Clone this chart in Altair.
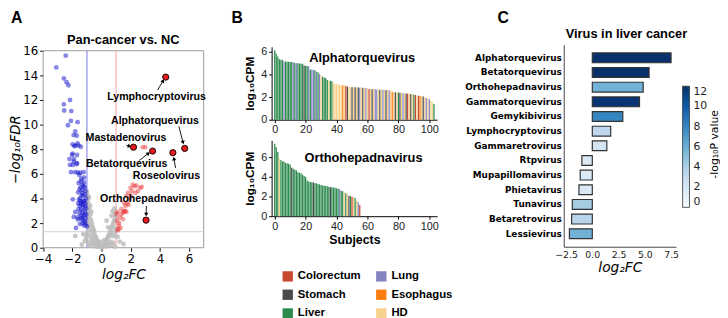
import math
import altair as alt
import pandas as pd

SANS = "Liberation Sans"
DEJA = "DejaVu Sans"

# ---------------- Panel A: volcano plot ----------------
gray_pts = [
    (-1.80, 0.95), (-1.25, 1.10), (-1.15, 0.55), (-1.35, 0.25), (-1.05, 0.80),
    (-1.00, 4.55), (-0.95, 4.25), (-0.92, 3.95), (-0.98, 3.75), (-0.88, 3.55), (-0.94, 3.30),
    (-0.82, 3.10), (-0.90, 2.90), (-0.76, 2.70), (-0.96, 2.55), (-0.84, 2.40), (-0.72, 2.25),
    (-0.92, 2.10), (-0.66, 2.00), (-0.80, 1.88), (-0.62, 1.72), (-0.88, 1.60), (-0.56, 1.50),
    (-0.74, 1.40), (-0.50, 1.30), (-0.96, 1.20), (-0.62, 1.10), (-0.46, 1.00), (-0.82, 0.92),
    (-0.40, 0.85), (-0.56, 0.76), (-0.35, 0.70), (-0.70, 0.62), (-0.30, 0.55), (-0.48, 0.50),
    (-0.25, 0.42), (-0.60, 0.36), (-0.20, 0.32), (-0.38, 0.26), (-0.15, 0.20), (-0.88, 0.18),
    (-0.10, 0.12), (-0.30, 0.08), (-0.05, 0.05), (-0.52, 0.14), (-0.74, 0.30), (-0.98, 0.50),
    (-1.00, 1.00), (-0.98, 2.00), (-0.97, 3.05), (-0.86, 4.10), (-0.78, 3.40), (-0.70, 2.90),
    (0.02, 0.03), (0.08, 0.12), (0.14, 0.22), (0.20, 0.30), (0.26, 0.45), (0.30, 0.52),
    (0.36, 0.62), (0.40, 0.76), (0.45, 0.90), (0.50, 1.02), (0.55, 1.16), (0.60, 1.30),
    (0.64, 1.46), (0.70, 1.62), (0.74, 1.76), (0.80, 1.92), (0.84, 2.12), (0.90, 2.30),
    (0.94, 2.50), (0.68, 2.59), (0.76, 2.94), (0.88, 3.20), (0.97, 2.80), (0.60, 0.50),
    (0.80, 0.42), (0.50, 0.30), (0.95, 0.92), (0.72, 0.95), (0.86, 1.22), (0.40, 0.20),
    (0.98, 1.52), (0.30, 0.10), (0.66, 0.22), (0.46, 1.66), (0.35, 2.19), (0.92, 0.10),
    (1.10, 0.90), (1.25, 0.50), (1.50, 0.30), (0.18, 0.60), (-0.12, 0.50), (0.00, 0.25),
]
blue_pts = [
    (-2.45, 15.60), (-3.10, 14.65), (-2.58, 13.75), (-2.40, 13.45), (-2.27, 13.20), (-2.16, 12.00),
    (-2.58, 11.65), (-2.56, 11.15), (-2.07, 11.10), (-2.10, 10.30), (-1.64, 10.20), (-2.30, 9.95),
    (-1.80, 9.45), (-1.91, 9.15), (-1.70, 9.10), (-1.98, 8.40), (-1.80, 8.30), (-1.58, 8.30),
    (-1.42, 8.20), (-1.86, 8.25), (-1.64, 8.47), (-1.98, 7.65), (-2.02, 7.53), (-1.68, 7.53),
    (-2.20, 7.20), (-1.89, 7.20), (-1.91, 7.00), (-1.68, 6.86), (-2.16, 6.73), (-1.96, 6.73),
    (-1.70, 6.80), (-2.09, 6.14), (-1.80, 6.14), (-1.46, 6.10), (-1.23, 6.14), (-1.62, 6.10),
    (-1.57, 5.26), (-1.41, 5.40), (-1.23, 5.00), (-1.50, 4.73), (-1.34, 4.46), (-1.12, 4.33),
    (-1.46, 4.06), (-1.23, 3.79), (-1.41, 3.53), (-1.12, 3.39), (-1.57, 3.13), (-1.30, 2.91),
    (-1.05, 2.72), (-1.64, 2.46), (-1.37, 2.32), (-1.12, 2.11), (-1.48, 1.92), (-1.00, 1.74),
    (-1.30, 5.10), (-1.15, 4.90), (-1.45, 4.90), (-1.60, 4.50), (-1.25, 4.20), (-1.05, 4.00),
    (-1.55, 3.90), (-1.35, 3.70), (-1.10, 3.60), (-1.50, 3.40), (-1.25, 3.30), (-1.40, 3.10),
    (-1.15, 3.00), (-1.50, 2.80), (-1.25, 2.60), (-1.08, 2.40), (-1.40, 2.60), (-1.20, 2.20),
    (-1.30, 2.00), (-1.10, 1.90), (-1.20, 1.80), (-1.05, 3.20), (-1.10, 4.60), (-1.30, 4.70),
    (-1.20, 5.30), (-1.38, 5.60), (-1.52, 5.90), (-1.20, 5.70), (-1.97, 3.93), (-1.80, 2.90),
    (-1.90, 2.50), (-1.62, 2.30), (-1.75, 1.60), (-1.35, 4.30), (-1.45, 3.80), (-1.18, 3.80),
    (-1.28, 3.50), (-1.60, 3.60), (-1.35, 2.40), (-1.15, 2.70),
]
red_pts = [
    (1.09, 1.39), (1.18, 1.79), (1.07, 2.19), (1.24, 2.46), (1.47, 2.86), (1.63, 2.99),
    (1.36, 3.13), (1.63, 3.39), (1.54, 3.66), (1.92, 3.93), (1.70, 4.19), (1.81, 4.46),
    (2.08, 4.59), (2.26, 4.99), (2.32, 4.46), (1.99, 4.86), (1.36, 2.70), (1.02, 2.72),
    (1.47, 2.32), (2.66, 4.86), (2.49, 4.60), (2.15, 5.13), (1.55, 2.95), (1.30, 1.60),
    (1.15, 1.50), (1.75, 3.60), (2.00, 4.20), (1.85, 3.50), (1.70, 2.90), (2.82, 8.17),
    (3.00, 8.17), (1.20, 2.00), (1.10, 2.90), (2.40, 5.05), (2.75, 4.95),
]
hl_names = ["Lymphocryptovirus", "Alphatorquevirus", "Mastadenovirus",
            "Betatorquevirus", "Roseolovirus", "Orthohepadnavirus"]
hl_x = [4.40, 5.70, 2.19, 3.50, 4.89, 3.05]
hl_y = [13.86, 8.07, 8.17, 7.85, 7.72, 2.24]
lab_x = [3.77, 3.66, 1.68, 1.72, 4.45, 3.25]
lab_y = [12.20, 10.33, 8.93, 6.77, 5.86, 3.93]
arr_x0 = [3.84, 5.30, 1.70, 2.60, 5.07, 3.07]
arr_y0 = [12.80, 9.86, 8.33, 7.10, 6.47, 3.39]
arr_x1 = [4.29, 5.62, 2.05, 3.32, 4.94, 3.06]
arr_y1 = [13.70, 8.39, 8.20, 7.76, 7.40, 2.54]
thr_fc = [-1, 1]
thr_fc_colors = ["#8c8cf0", "#ffb0b0"]
thr_fdr = [1.3]

# ---------------- Panel B: bar plots per subject ----------------
tissue_order = ["Colorectum", "Stomach", "Liver", "Lung", "Esophagus", "HD"]
tissue_colors = ["#c8472f", "#4a4a4a", "#2b8a4c", "#8383c2", "#fb7d0f", "#f6d28c"]
code_names = {"C": "Colorectum", "L": "Lung", "S": "Stomach",
              "E": "Esophagus", "G": "Liver", "H": "HD"}
alpha_vals = [
    6.15, 5.85, 5.60, 5.35, 5.30, 5.30, 5.15, 5.15, 5.12, 5.12,
    5.10, 5.10, 5.08, 5.02, 5.00, 5.00, 4.98, 4.95, 4.95, 4.80,
    4.78, 4.75, 4.72, 4.45, 4.42, 4.40, 4.38, 4.25, 4.20, 4.05,
    3.90, 3.80, 3.72, 3.68, 3.52, 3.48, 3.45, 3.40, 3.20, 3.18,
    3.15, 3.12, 3.10, 3.06, 3.04, 3.02, 3.00, 2.92, 2.90, 2.90,
    2.88, 2.88, 2.87, 2.86, 2.85, 2.85, 2.84, 2.83, 2.82, 2.80,
    2.78, 2.72, 2.71, 2.70, 2.70, 2.69, 2.68, 2.67, 2.66, 2.65,
    2.64, 2.63, 2.62, 2.61, 2.60, 2.58, 2.48, 2.46, 2.44, 2.42,
    2.40, 2.38, 2.36, 2.35, 2.33, 2.32, 2.30, 2.29, 2.27, 2.25,
    2.23, 2.18, 2.15, 2.13, 2.10, 2.08, 2.05, 1.97, 1.92, 1.87,
    1.80, 1.65, 1.55, 1.40,
]
alpha_codes = ("GGGGGGLGGG GGLGLGGGGS GGLGLLGLGL HGGGGHGGHH HHHHEHCSHH "
               "SHSHSLHSHL HCHSHLLHSH LHSHLHEHSH GSHLHSCHSH GCHCEHSHLH LHHG").replace(" ", "")
ortho_vals = [
    7.40, 7.05, 6.55, 5.90, 5.75, 5.60, 5.58, 5.45, 5.40, 5.35,
    5.25, 4.95, 4.85, 4.75, 4.70, 4.50, 4.45, 4.40, 4.25, 4.10,
    4.00, 3.65, 3.55, 3.50, 3.48, 3.45, 3.40, 3.35, 3.30, 3.25,
    3.20, 3.15, 3.12, 3.10, 3.05, 3.00, 2.98, 2.95, 2.92, 2.90,
    2.85, 2.80, 2.75, 2.60, 2.55, 2.50, 2.35, 2.25, 2.10, 2.05,
    2.00, 1.95, 1.85, 1.60, 1.45, 1.15,
]
ortho_codes = ("GGGHGGGGGG GSGGGGGGGG GGGGGSGGGG GGGGGGSGGG GGLGGHGHSG CHGHLC").replace(" ", "")

# ---------------- Panel C: liver cancer viruses ----------------
virus_names = ["Alphatorquevirus", "Betatorquevirus", "Orthohepadnavirus", "Gammatorquevirus",
               "Gemykibivirus", "Lymphocryptovirus", "Gammaretrovirus", "Rtpvirus",
               "Mupapillomavirus", "Phietavirus", "Tunavirus", "Betaretrovirus", "Lessievirus"]
virus_fc = [7.49, 5.40, 4.84, 4.49, 2.90, 1.75, 1.38, -0.99, -1.15, -1.27, -1.90, -1.97, -2.18]
virus_p = [13.0, 12.5, 5.8, 11.8, 8.0, 3.3, 2.2, 1.6, 1.6, 1.7, 4.3, 3.5, 5.8]
blues_stops = [0, 1.5, 3, 4.5, 6, 7.5, 9, 10.5, 12]
blues_colors = ["#f7fbff", "#deebf7", "#c6dbef", "#9ecae1", "#6baed6",
                "#4292c6", "#2171b5", "#08519c", "#08306b"]

# ---------------- layout (one canvas, pixel boxes for the three panels) ----------------
W, H = 720, 310
A_X, A_Y = [32.7, 195.7], [241, 41]          # panel A plot box
B_X = [264.7, 432.7]                          # panel B plot boxes
B1_Y, B2_Y = [111, 37], [209, 132]
C_X, C_Y = [561.3, 675.3], [35, 240]          # panel C plot box


def txt(text, x, y, size, font=SANS, weight="bold", align="left", baseline="alphabetic",
        angle=0, color="black"):
    return alt.Chart(pd.DataFrame({"t": [text]})).mark_text(
        font=font, fontSize=size, fontWeight=weight, align=align, baseline=baseline,
        angle=angle, color=color,
    ).encode(x=alt.value(x), y=alt.value(y), text="t:N")


# ================= Panel A =================
XA_DOM, YA_DOM = [-4, 7], [0, 16]
kx = (A_X[1] - A_X[0]) / (XA_DOM[1] - XA_DOM[0])
ky = (A_Y[0] - A_Y[1]) / (YA_DOM[1] - YA_DOM[0])
sxA = alt.Scale(domain=XA_DOM, range=A_X, nice=False)
syA = alt.Scale(domain=YA_DOM, range=A_Y, nice=False)
axA_x = alt.Axis(orient="bottom", offset=A_Y[0] - H, title="log₂FC", values=[-4, -2, 0, 2, 4, 6],
                 labelFlush=False, domain=False, tickSize=3.5, tickColor="black", labelFont=DEJA,
                 labelFontSize=12, labelColor="black", labelPadding=2.5, titleFont=DEJA,
                 titleFontSize=14, titleFontStyle="italic", titleFontWeight="normal",
                 titleColor="black", titlePadding=3.5)
axA_y = alt.Axis(orient="left", offset=-A_X[0], title="−log₁₀FDR",
                 values=[0, 2, 4, 6, 8, 10, 12, 14, 16], labelFlush=False, domain=False,
                 tickSize=3.5, tickColor="black", labelFont=DEJA, labelFontSize=12,
                 labelColor="black", labelPadding=2, titleFont=DEJA, titleFontSize=13.5,
                 titleFontStyle="italic", titleFontWeight="normal", titleColor="black",
                 titlePadding=0)


def XA(f, show=False):
    return alt.X(f"{f}:Q", scale=sxA, axis=axA_x if show else None)


def YA(f, show=False):
    return alt.Y(f"{f}:Q", scale=syA, axis=axA_y if show else None)


df_gray = pd.DataFrame(gray_pts, columns=["x", "y"])
df_blue = pd.DataFrame(blue_pts, columns=["x", "y"])
df_red = pd.DataFrame(red_pts, columns=["x", "y"])
df_hl = pd.DataFrame({"x": hl_x, "y": hl_y, "name": hl_names})
df_lab = pd.DataFrame({"x": lab_x, "y": lab_y, "name": hl_names})

heads_x, heads_y, heads_a = [], [], []
for x0, y0, x1, y1 in zip(arr_x0, arr_y0, arr_x1, arr_y1):
    dxp, dyp = (x1 - x0) * kx, -(y1 - y0) * ky
    L = math.hypot(dxp, dyp)
    heads_a.append(math.degrees(math.atan2(dxp, -dyp)) % 360)
    heads_x.append(x1 - 2.0 * dxp / L / kx)
    heads_y.append(y1 + 2.0 * dyp / L / ky)
df_arr = pd.DataFrame({"x": arr_x0, "y": arr_y0, "hx": heads_x, "hy": heads_y, "ang": heads_a})

frame = alt.Chart(pd.DataFrame({"x": [XA_DOM[0]], "x2": [XA_DOM[1]],
                                "y": [YA_DOM[0]], "y2": [YA_DOM[1]]})).mark_rect(
    fill="white", fillOpacity=0, stroke="#9a9a9a", strokeWidth=1).encode(
    x=XA("x", True), x2=alt.X2("x2:Q"), y=YA("y", True), y2=alt.Y2("y2:Q"))
vrules = alt.Chart(pd.DataFrame({"x": thr_fc, "c": thr_fc_colors,
                                 "y": [YA_DOM[0]] * 2, "y2": [YA_DOM[1]] * 2})).mark_rule(
    strokeWidth=1.2).encode(x=XA("x"), y=YA("y"), y2=alt.Y2("y2:Q"),
                            color=alt.Color("c:N", scale=None))
hrule = alt.Chart(pd.DataFrame({"y": thr_fdr, "x": [XA_DOM[0]], "x2": [XA_DOM[1]]})).mark_rule(
    strokeWidth=0.8, color="#c4c4c4").encode(y=YA("y"), x=XA("x"), x2=alt.X2("x2:Q"))
p_gray = alt.Chart(df_gray).mark_circle(size=24, color="#bdbdbd", opacity=0.85).encode(x=XA("x"), y=YA("y"))
p_blue = alt.Chart(df_blue).mark_circle(size=24, color="#1010cc", opacity=0.5).encode(x=XA("x"), y=YA("y"))
p_red = alt.Chart(df_red).mark_circle(size=24, color="#e31a1c", opacity=0.4).encode(x=XA("x"), y=YA("y"))
p_hl = alt.Chart(df_hl).mark_circle(size=40, color="#e41a1c", opacity=1, stroke="black",
                                    strokeWidth=0.9).encode(x=XA("x"), y=YA("y"))
a_lines = alt.Chart(df_arr).mark_rule(color="black", strokeWidth=0.9).encode(
    x=XA("x"), y=YA("y"), x2=alt.X2("hx:Q"), y2=alt.Y2("hy:Q"))
a_heads = alt.Chart(df_arr).mark_point(shape="triangle-up", filled=True, size=18, color="black",
                                       opacity=1).encode(
    x=XA("hx"), y=YA("hy"), angle=alt.Angle("ang:Q", scale=None))
a_text = alt.Chart(df_lab).mark_text(font=SANS, fontWeight="bold", fontSize=10.8, color="black",
                                     align="center", baseline="middle").encode(
    x=XA("x"), y=YA("y"), text="name:N")

layers_A = [frame, vrules, hrule, p_gray, p_blue, p_red, a_lines, a_heads, p_hl, a_text,
            txt("A", 0, 13, 16),
            txt("Pan-cancer vs. NC", 114, 33.7, 13, align="center")]

# ================= Panel B =================
sxB = alt.Scale(domain=[-2, 105], range=B_X, nice=False)
cB = alt.Scale(domain=tissue_order, range=tissue_colors)


def b_axis_x(yr, title=None):
    kw = dict(orient="bottom", offset=yr[0] - H, values=[0, 20, 40, 60, 80, 100],
              labelFlush=False, tickSize=3, tickColor="black", domainColor="black",
              labelFont=SANS, labelFontSize=11, labelColor="#222", labelPadding=1.5)
    if title:
        return alt.Axis(title=title, titleFont=SANS, titleFontSize=12.5, titleFontWeight="bold",
                        titleColor="black", titlePadding=2.5, **kw)
    return alt.Axis(title=None, **kw)


def b_axis_y():
    return alt.Axis(orient="left", offset=-B_X[0], title="log₁₀CPM", values=[0, 2, 4, 6],
                    labelFlush=False, tickSize=3, tickColor="black", domainColor="black",
                    labelFont=SANS, labelFontSize=11, labelColor="#222", labelPadding=2,
                    titleFont=SANS, titleFontSize=12, titleFontWeight="bold", titleColor="black",
                    titlePadding=4)


def bars(vals, codes, ymax, yr, xtitle, legend):
    df = pd.DataFrame({"i": list(range(len(vals))), "v": vals,
                       "t": [code_names[c] for c in codes]})
    return alt.Chart(df).transform_calculate(
        x0="datum.i - 0.4", x1="datum.i + 0.4"
    ).mark_bar(strokeWidth=0).encode(
        x=alt.X("x0:Q", scale=sxB, axis=b_axis_x(yr, xtitle)),
        x2="x1:Q",
        y=alt.Y("v:Q", scale=alt.Scale(domain=[0, ymax], nice=False, range=yr), axis=b_axis_y()),
        y2=alt.datum(0),
        color=alt.Color("t:N", scale=cB, legend=legend),
    )


legB = alt.Legend(orient="none", legendX=275.3, legendY=264, columns=2, symbolType="square",
                  symbolSize=110, symbolStrokeWidth=0, labelFont=SANS, labelFontWeight="bold",
                  labelFontSize=11.5, labelColor="black", title=None, columnPadding=15,
                  rowPadding=6, labelOffset=4.5, padding=0, labelLimit=200)

layers_B = [
    bars(alpha_vals, alpha_codes, 6.45, B1_Y, None, None),
    bars(ortho_vals, ortho_codes, 7.75, B2_Y, "Subjects", legB),
    txt("B", 224, 13, 16),
    txt("Alphatorquevirus", 356.7, 52.5, 13, align="center"),
    txt("Orthohepadnavirus", 358, 153.5, 13, align="center"),
]

# ================= Panel C =================
dfC = pd.DataFrame({"name": virus_names, "fc": virus_fc, "p": virus_p})
legC = alt.Legend(orient="none", legendX=682, legendY=77, direction="vertical",
                  gradientLength=123, gradientThickness=7, values=[0, 2, 4, 6, 8, 10, 12],
                  labelFont=DEJA, labelFontSize=11, labelColor="#222", gradientStrokeColor="#333",
                  gradientStrokeWidth=0.8, labelOffset=4, padding=0, title=None)
barsC = alt.Chart(dfC).mark_bar(stroke="#333333", strokeWidth=1.2).encode(
    y=alt.Y("name:N", sort=virus_names,
            scale=alt.Scale(range=C_Y, paddingInner=0.33, paddingOuter=0.55),
            axis=alt.Axis(orient="left", offset=-C_X[0], title=None, ticks=False,
                          domainColor="#444", labelFont=DEJA, labelFontWeight="bold",
                          labelFontSize=9, labelColor="black", labelPadding=2.5)),
    x=alt.X("fc:Q", scale=alt.Scale(domain=[-2.72, 7.96], range=C_X, nice=False),
            axis=alt.Axis(orient="bottom", offset=C_Y[1] - H, values=[-2.5, 0, 2.5, 5, 7.5],
                          format=".1f", labelFlush=False, ticks=False, domainColor="#444",
                          labelFont=DEJA, labelFontSize=9.5, labelColor="#222", labelPadding=3,
                          title="log₂FC", titleFont=DEJA, titleFontStyle="italic",
                          titleFontWeight="normal", titleFontSize=14, titleColor="black",
                          titlePadding=1.5)),
    color=alt.Color("p:Q", scale=alt.Scale(domain=blues_stops, range=blues_colors, clamp=True),
                    legend=legC),
)
layers_C = [
    barsC,
    txt("C", 494, 13, 16),
    txt("Virus in liver cancer", 625, 28, 13, align="center"),
    txt("-log₁₀P value", 714.5, 136, 11, font=DEJA, weight="normal", align="center",
        baseline="middle", angle=270),
]

chart = alt.layer(*layers_A, *layers_B, *layers_C).resolve_scale(
    x="independent", y="independent", color="independent"
).properties(width=W, height=H, padding=0, background="white").configure_view(
    stroke=None).configure_axis(grid=False)

chart.save("out.html", embed_options={"renderer": "svg", "actions": False})
